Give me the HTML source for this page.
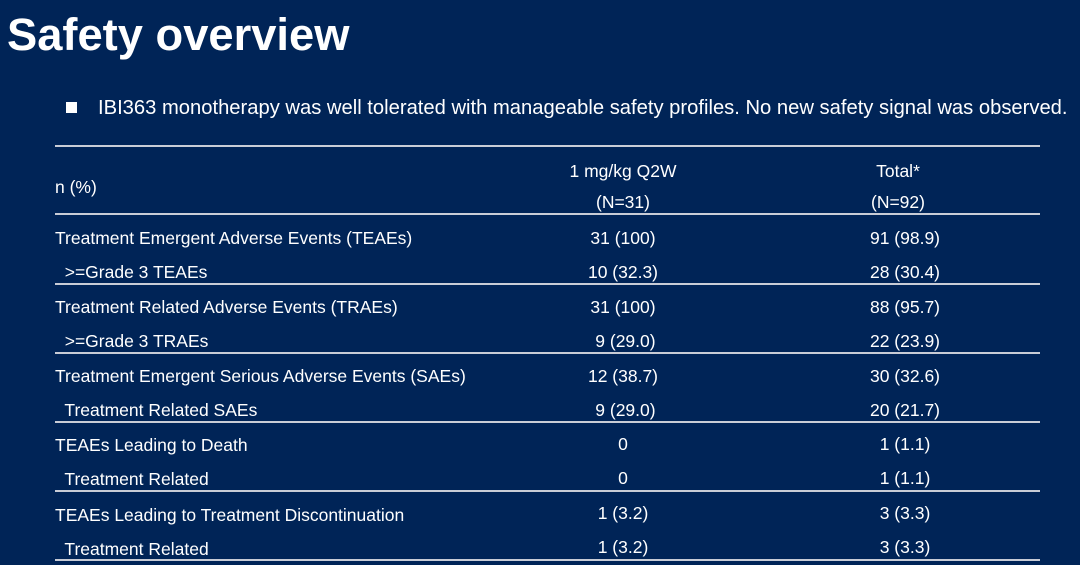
<!DOCTYPE html>
<html><head><style>
body{margin:0;width:1080px;height:565px;background:#002457;overflow:hidden;font-family:"Liberation Sans",sans-serif;color:#fff;position:relative}
.t{position:absolute;white-space:nowrap;line-height:1}
.c1{position:absolute;width:200px;text-align:center;left:523px;font-size:17.5px;line-height:1}
.c2{position:absolute;width:200px;text-align:center;left:805px;font-size:17.5px;line-height:1}
.h2{left:798px}
.l{position:absolute;left:55px;width:985px;height:2px;background:#c8ccd6}
.r{position:absolute;left:55px;font-size:17.5px;line-height:1;white-space:nowrap}
</style></head><body>
<div class="t" style="left:7px;top:12px;font-size:45.3px;font-weight:bold">Safety overview</div>
<div style="position:absolute;left:66px;top:102px;width:11px;height:11px;background:#fff"></div>
<div class="t" style="left:98px;top:98px;font-size:20.2px">IBI363 monotherapy was well tolerated with manageable safety profiles. No new safety signal was observed.</div>
<div class="l" style="top:145px"></div>
<div class="r" style="top:179px">n (%)</div>
<div class="c1" style="top:163px">1 mg/kg Q2W</div>
<div class="c2 h2" style="top:163px">Total*</div>
<div class="c1" style="top:194px">(N=31)</div>
<div class="c2 h2" style="top:194px">(N=92)</div>
<div class="l" style="top:213px"></div>
<div class="r" style="top:230px">Treatment Emergent Adverse Events (TEAEs)</div><div class="c1" style="top:230px">31 (100)</div><div class="c2" style="top:230px">91 (98.9)</div>
<div class="r" style="top:264px">&nbsp; &gt;=Grade 3 TEAEs</div><div class="c1" style="top:264px">10 (32.3)</div><div class="c2" style="top:264px">28 (30.4)</div>
<div class="l" style="top:283px"></div>
<div class="r" style="top:299px">Treatment Related Adverse Events (TRAEs)</div><div class="c1" style="top:299px">31 (100)</div><div class="c2" style="top:299px">88 (95.7)</div>
<div class="r" style="top:333px">&nbsp; &gt;=Grade 3 TRAEs</div><div class="c1" style="top:333px">&nbsp;9 (29.0)</div><div class="c2" style="top:333px">22 (23.9)</div>
<div class="l" style="top:352px"></div>
<div class="r" style="top:368px">Treatment Emergent Serious Adverse Events (SAEs)</div><div class="c1" style="top:368px">12 (38.7)</div><div class="c2" style="top:368px">30 (32.6)</div>
<div class="r" style="top:402px">&nbsp; Treatment Related SAEs</div><div class="c1" style="top:402px">&nbsp;9 (29.0)</div><div class="c2" style="top:402px">20 (21.7)</div>
<div class="l" style="top:421px"></div>
<div class="r" style="top:437px">TEAEs Leading to Death</div><div class="c1" style="top:436px">0</div><div class="c2" style="top:436px">1 (1.1)</div>
<div class="r" style="top:471px">&nbsp; Treatment Related</div><div class="c1" style="top:470px">0</div><div class="c2" style="top:470px">1 (1.1)</div>
<div class="l" style="top:490px"></div>
<div class="r" style="top:507px">TEAEs Leading to Treatment Discontinuation</div><div class="c1" style="top:505px">1 (3.2)</div><div class="c2" style="top:505px">3 (3.3)</div>
<div class="r" style="top:541px">&nbsp; Treatment Related</div><div class="c1" style="top:539px">1 (3.2)</div><div class="c2" style="top:539px">3 (3.3)</div>
<div class="l" style="top:559px"></div>
</body></html>
